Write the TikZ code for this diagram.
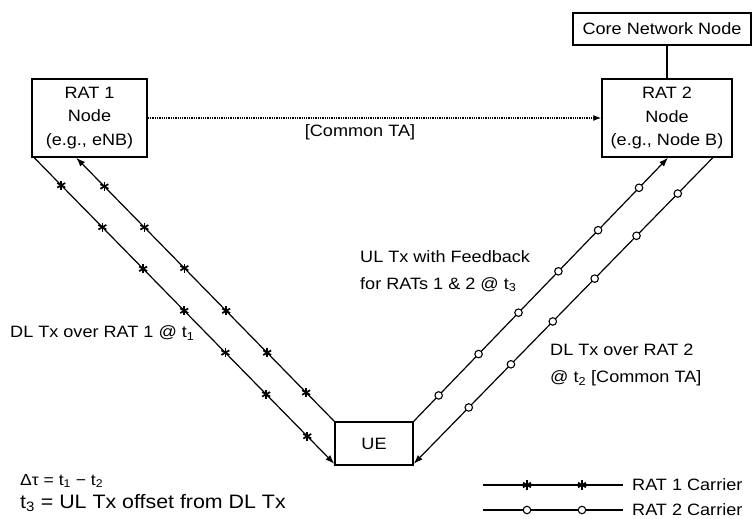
\documentclass[tikz,border=0pt]{standalone}
\usepackage{fontspec}
\setmainfont{Liberation Sans}[FakeStretch=1.1]
\usetikzlibrary{arrows.meta,calc}

\tikzset{
  box/.style={draw, line width=1.5bp, inner sep=0pt, align=center,
    font=\fontsize{16.5}{24}\selectfont},
  lbl/.style={inner sep=0pt, anchor=west, align=left,
    font=\fontsize{16.5}{27}\selectfont},
  link/.style={line width=1.2bp},
  arr/.style={link, -{Latex[length=9bp,width=6.5bp]}},
  starmk/.style={inner sep=0pt, minimum size=11bp,
    path picture={
      \foreach \a in {90,30,150}
        \draw[line width=1.7bp]
          ($(path picture bounding box.center)+(\a:4.6bp)$) --
          ($(path picture bounding box.center)+(\a+180:4.6bp)$);
    }},
  circmk/.style={draw, fill=white, circle, inner sep=0pt,
    minimum size=7.5bp, line width=1.1bp}
}

\begin{document}
\begin{tikzpicture}[x=1bp,y=-1bp]
  \useasboundingbox[fill=white] (0,0) rectangle (753,519);

  % network nodes
  \node[box, minimum width=115bp, minimum height=78bp] (rat1) at (89.5,118)
    {RAT 1\\Node\\(e.g., eNB)};
  \node[box, minimum width=130bp, minimum height=78bp] (rat2) at (667,118)
    {RAT 2\\Node\\(e.g., Node B)};
  \node[box, minimum width=178bp, minimum height=32bp] (core) at (662,29)
    {Core Network Node};
  \node[box, minimum width=78bp, minimum height=43bp] (ue) at (374,443.5)
    {UE};

  % core network link
  \draw[link] (rat2.north) -- (rat2.north |- core.south);

  % shared timing advance between the two RAT nodes
  \draw[line width=1.3bp, densely dotted, -{Latex[length=8bp,width=6bp]}]
    (rat1.east) -- (rat2.west);
  \node[lbl, anchor=center] (cta) at (360,132) {[Common TA]};

  % RAT 1 carrier: downlink and uplink
  \coordinate (a1) at ([xshift=3bp]rat1.south west);
  \coordinate (b1) at ([xshift=45bp]rat1.south west);
  \draw[arr] (a1) -- ([yshift=2bp]ue.south west);
  \draw[arr] (ue.north west) -- (b1);
  \path (a1) -- ([yshift=2bp]ue.south west)
    foreach \p [count=\i] in {0.09,0.227,0.363,0.5,0.637,0.773,0.91}
      {node[starmk, pos=\p] (sd\i) {}};
  \path (ue.north west) -- (b1)
    foreach \p [count=\i] in {0.109,0.26,0.419,0.581,0.736,0.891}
      {node[starmk, pos=\p] (su\i) {}};

  % RAT 2 carrier: uplink and downlink
  \coordinate (c2) at ([xshift=1bp]rat2.south);
  \coordinate (d2) at ([xshift=-20bp]rat2.south east);
  \draw[arr] (ue.north east) -- (c2);
  \draw[arr] (d2) -- ([yshift=2bp]ue.south east);
  \path (ue.north east) -- (c2)
    foreach \p [count=\i] in {0.098,0.255,0.412,0.569,0.725,0.886}
      {node[circmk, pos=\p] (cu\i) {}};
  \path (d2) -- ([yshift=2bp]ue.south east)
    foreach \p [count=\i] in {0.117,0.255,0.395,0.535,0.675,0.816}
      {node[circmk, pos=\p] (cd\i) {}};

  % link labels
  \node[lbl] (ul) at (360,271)
    {UL Tx with Feedback\\for RATs 1 \& 2 @ t\textsubscript{3}};
  \node[lbl] (dl1) at (10,333) {DL Tx over RAT 1 @ t\textsubscript{1}};
  \node[lbl] (dl2) at (550,365)
    {DL Tx over RAT 2\\@ t\textsubscript{2} [Common TA]};

  % timing notes
  \node[lbl, font=\fontsize{16}{18}\selectfont] (dtau) at (20,481)
    {Δτ = t\textsubscript{1} − t\textsubscript{2}};
  \node[lbl, font=\fontsize{19.5}{22}\selectfont] (t3) at (20,503)
    {t\textsubscript{3} = UL Tx offset from DL Tx};

  % legend
  \coordinate (l1a) at (483,485);
  \coordinate (l1b) at (623,485);
  \coordinate (l2a) at (483,510);
  \coordinate (l2b) at (623,510);
  \draw[link] (l1a) -- (l1b)
    node[starmk, pos=0.314] (ls1) {} node[starmk, pos=0.707] (ls2) {};
  \draw[link] (l2a) -- (l2b)
    node[circmk, pos=0.314] (lc1) {} node[circmk, pos=0.707] (lc2) {};
  \node[lbl] (leg1) at (632,485) {RAT 1 Carrier};
  \node[lbl] (leg2) at (632,510) {RAT 2 Carrier};
\end{tikzpicture}
\end{document}
